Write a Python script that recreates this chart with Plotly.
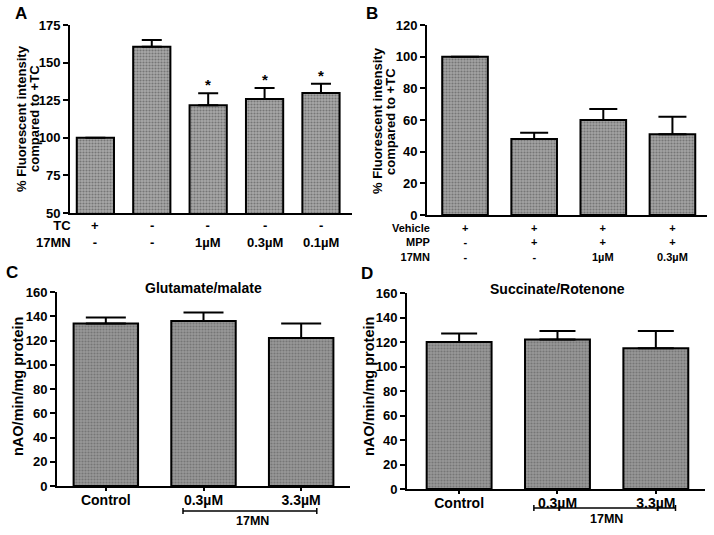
import plotly.graph_objects as go

W, H = 714, 535

# ---- data ----
a_cats = ['c1', 'c2', 'c3', 'c4', 'c5']
a_vals = [100, 160.5, 121.6, 125.8, 129.8]
a_err = [0, 4.5, 8.0, 7.3, 6.2]
a_tc = ['+', '-', '-', '-', '-']
a_17mn = ['-', '-', '1µM', '0.3µM', '0.1µM']
a_star = [False, False, True, True, True]

b_cats = ['c1', 'c2', 'c3', 'c4']
b_vals = [100, 48, 60, 51]
b_err = [0, 4, 7, 11]
b_vehicle = ['+', '+', '+', '+']
b_mpp = ['-', '+', '+', '+']
b_17mn = ['-', '-', '1µM', '0.3µM']

c_cats = ['Control', '0.3µM', '3.3µM']
c_vals = [134, 136, 122]
c_err = [5, 7, 12]

d_cats = ['Control', '0.3µM', '3.3µM']
d_vals = [120, 122, 115]
d_err = [7, 7, 14]

FONT = 'Liberation Sans'


def px(x):
    return x / W


def py(y):
    return 1 - y / H


def bold(s):
    return '<b>%s</b>' % s


def bar_trace(vals, err, xa, ya, cap, bg):
    return go.Bar(
        x=list(range(len(vals))), y=vals, xaxis=xa, yaxis=ya, width=0.66,
        marker=dict(color=bg, line=dict(color='black', width=2),
                    pattern=dict(shape='.', fgcolor='#767676', bgcolor=bg,
                                 size=3, solidity=0.4, fillmode='replace')),
        error_y=dict(type='data', array=err, arrayminus=[0] * len(err), symmetric=False,
                     color='black', thickness=2, width=cap, visible=True),
        showlegend=False, hoverinfo='skip')


fig = go.Figure()
fig.add_trace(bar_trace(a_vals, a_err, 'x', 'y', 10, '#a8a8a8'))
fig.add_trace(bar_trace(b_vals, b_err, 'x2', 'y2', 14, '#a4a4a4'))
fig.add_trace(bar_trace(c_vals, c_err, 'x3', 'y3', 20, '#999999'))
fig.add_trace(bar_trace(d_vals, d_err, 'x4', 'y4', 18, '#999999'))

tickfont = dict(family=FONT, size=13, color='black')
common_y = dict(showline=True, linecolor='black', linewidth=2, ticks='outside', ticklen=5,
                tickwidth=2, tickcolor='black', showgrid=False, zeroline=False,
                tickfont=tickfont, automargin=False)
common_x = dict(showline=True, linecolor='black', linewidth=2, showgrid=False, zeroline=False,
                tickfont=dict(family=FONT, size=14, color='black'), automargin=False)

fig.update_layout(
    width=W, height=H, margin=dict(l=0, r=0, t=0, b=0),
    plot_bgcolor='white', paper_bgcolor='white',
    font=dict(family=FONT, color='black'),
    xaxis=dict(common_x, domain=[px(70), px(352)], range=[-0.45, 4.55], showticklabels=False, ticks=''),
    yaxis=dict(common_y, domain=[py(213), py(25)], range=[50, 175],
               tickvals=[50, 75, 100, 125, 150, 175],
               ticktext=[bold(v) for v in [50, 75, 100, 125, 150, 175]]),
    xaxis2=dict(common_x, domain=[px(427), px(707)], range=[-0.55, 3.5], showticklabels=False, ticks='',
                anchor='y2'),
    yaxis2=dict(common_y, domain=[py(215), py(25)], range=[0, 120], anchor='x2',
                tickvals=list(range(0, 121, 20)), ticktext=[bold(v) for v in range(0, 121, 20)]),
    xaxis3=dict(common_x, domain=[px(57), px(350)], range=[-0.5, 2.5], anchor='y3',
                tickvals=[0, 1, 2], ticktext=[bold(c) for c in c_cats], ticklabelstandoff=-3,
                ticks='outside', ticklen=3, tickwidth=1.5, tickcolor='black'),
    yaxis3=dict(common_y, domain=[py(486), py(292)], range=[0, 160], anchor='x3',
                tickvals=list(range(0, 161, 20)), ticktext=[bold(v) for v in range(0, 161, 20)]),
    xaxis4=dict(common_x, domain=[px(407), px(705)], range=[-0.53, 2.5], anchor='y4',
                tickvals=[0, 1, 2], ticktext=[bold(c) for c in d_cats], ticklabelstandoff=-3,
                ticks='outside', ticklen=3, tickwidth=1.5, tickcolor='black'),
    yaxis4=dict(common_y, domain=[py(489), py(293)], range=[0, 160], anchor='x4',
                tickvals=list(range(0, 161, 20)), ticktext=[bold(v) for v in range(0, 161, 20)]),
)

ann = []


def note(text, x, y, xref='paper', yref='paper', size=13, xanchor='center', yanchor='middle', **kw):
    ann.append(dict(text=text, x=x, y=y, xref=xref, yref=yref, showarrow=False,
                    xanchor=xanchor, yanchor=yanchor, borderpad=0,
                    font=dict(family=FONT, size=size, color='black'), **kw))


# panel letters
note(bold('A'), px(14), py(14), size=17, xanchor='left')
note(bold('B'), px(365), py(14), size=17, xanchor='left')
note(bold('C'), px(5), py(272), size=17, xanchor='left')
note(bold('D'), px(360), py(273), size=17, xanchor='left')

# y-axis titles (two lines set close together, as in the original)
note(bold('% Fluorescent intensity'), px(21), py(119), size=13, textangle=-90)
note(bold('compared to +TC'), px(34), py(119), size=13, textangle=-90)
note(bold('% Fluorescent intensity'), px(377), py(121), size=13, textangle=-90)
note(bold('compared to +TC'), px(390), py(121), size=13, textangle=-90)
note(bold('nAO/min/mg protein'), px(18), py(387), size=14.5, textangle=-90)
note(bold('nAO/min/mg protein'), px(369), py(387), size=14.5, textangle=-90)

# panel titles C, D
note(bold('Glutamate/malate'), 1, py(288), xref='x3', size=14)
note(bold('Succinate/Rotenone'), 1, py(289), xref='x4', size=14)

# A condition rows
note(bold('TC<br>17MN'), px(72), py(234.5), xanchor='right', align='right', size=13)
for i in range(len(a_cats)):
    note(bold(a_tc[i]) + '<br>' + bold(a_17mn[i]), i, py(234.5), xref='x', size=13)
    if a_star[i]:
        note(bold('*'), i, a_vals[i] + a_err[i], xref='x', yref='y', size=15,
             yanchor='bottom', yshift=-1)

# B condition rows
note(bold('Vehicle<br>MPP<br>17MN'), px(431), py(242.5), xanchor='right', align='right', size=11)
for i in range(len(b_cats)):
    note('<br>'.join(bold(t) for t in (b_vehicle[i], b_mpp[i], b_17mn[i])), i, py(242.5),
         xref='x2', size=11)

# 17MN brackets for C and D
shapes = []
for xr, x0, x1, yb, yl in [('x3', 0.79, 2.16, 511, 521), ('x4', 0.76, 2.2, 508, 519)]:
    shapes.append(dict(type='line', xref=xr, yref='paper', x0=x0, x1=x1, y0=py(yb), y1=py(yb),
                       line=dict(color='black', width=1.5)))
    for xe in (x0, x1):
        shapes.append(dict(type='line', xref=xr, yref='paper', x0=xe, x1=xe,
                           y0=py(yb - 3), y1=py(yb + 3), line=dict(color='black', width=1.5)))
    note(bold('17MN'), 1.5, py(yl), xref=xr, size=12.5)

fig.update_layout(annotations=ann, shapes=shapes)
# the page body has a default 8px margin; drop it so the figure sits at the window's corner
fig.write_html('out.html', config={'displayModeBar': False},
               post_script="document.body.style.margin='0px';")
